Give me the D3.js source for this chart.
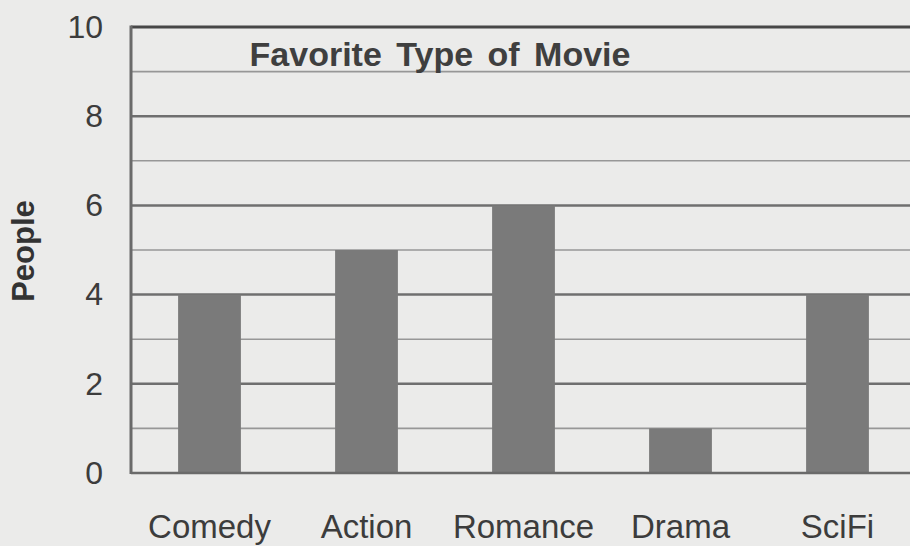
<!DOCTYPE html>
<html>

<head>
    <meta charset="utf-8">
    <style>
        body {
            margin: 0;
            background-color: #ebebea;
        }

        .chart-container {
            width: 910px;
            height: 546px;
            font-family: 'Liberation Sans', Arial, Helvetica, sans-serif;
        }

        svg {
            overflow: hidden;
        }

        .y .domain,
        .x .domain {
            display: none;
        }

        .x .tick line,
        .y .tick line {
            display: none;
        }
    </style>
</head>

<body>
    <div class="chart-container">
        <svg width="910" height="546"></svg>
    </div>
</body>

<script src="https://d3js.org/d3.v7.min.js"></script>

<script>
    // data
    let categories = ["Comedy", "Action", "Romance", "Drama", "SciFi"]
    let people = [4, 5, 6, 1, 4]
    let yTicks = [0, 2, 4, 6, 8, 10]
    let gridValues = [1, 2, 3, 4, 5, 6, 7, 8, 9]
    let title = "Favorite Type of Movie"
    let yLabel = "People"

    let width = 910
    let height = 546
    let svg = d3.select('body').select('svg')

    // plot box runs off the right edge like in the scan
    let margin = { top: 27, right: -6, bottom: 73, left: 131 }

    let x = d3.scaleBand()
        .domain(categories)
        .range([margin.left, width - margin.right])
        .paddingInner(0.6)
        .paddingOuter(0.3)

    let y = d3.scaleLinear()
        .domain([0, 10])
        .range([height - margin.bottom, margin.top])

    svg.append("rect")
        .attr("x", 0)
        .attr("y", 0)
        .attr("width", width)
        .attr("height", height)
        .attr("fill", "#ebebea")

    // gridlines, even ones a bit heavier
    svg.append("g")
        .attr("class", "grid")
        .selectAll("line")
        .data(gridValues)
        .join("line")
        .attr("x1", margin.left)
        .attr("x2", width)
        .attr("y1", d => y(d))
        .attr("y2", d => y(d))
        .attr("stroke", d => d % 2 == 0 ? "#6f6f6f" : "#979797")
        .attr("stroke-width", d => d % 2 == 0 ? 2.5 : 1.6)

    svg.append("text")
        .attr("x", 440)
        .attr("y", 66)
        .attr("text-anchor", "middle")
        .attr("font-size", "34px")
        .attr("font-weight", "bold")
        .attr("word-spacing", "5px")
        .attr("fill", "#3f3f3f")
        .text(title)

    svg.append("g")
        .attr("class", "bars")
        .selectAll("rect")
        .data(people)
        .join("rect")
        .attr("x", (d, i) => x(categories[i]))
        .attr("y", d => y(d))
        .attr("width", x.bandwidth())
        .attr("height", d => y(0) - y(d))
        .attr("fill", "#7a7a7a")

    // frame: top, left, bottom
    svg.append("line")
        .attr("x1", margin.left).attr("x2", width)
        .attr("y1", y(10)).attr("y2", y(10))
        .attr("stroke", "#474747")
        .attr("stroke-width", 3)

    svg.append("line")
        .attr("x1", margin.left).attr("x2", width)
        .attr("y1", y(0)).attr("y2", y(0))
        .attr("stroke", "#6a6a6a")
        .attr("stroke-width", 2.5)

    svg.append("line")
        .attr("x1", margin.left).attr("x2", margin.left)
        .attr("y1", y(10) - 1.5).attr("y2", y(0) + 1)
        .attr("stroke", "#6a6a6a")
        .attr("stroke-width", 3)

    let yAxis = svg.append("g")
        .attr("class", "y")
        .attr("transform", `translate(${margin.left - 28},0)`)
        .call(d3.axisLeft(y).tickValues(yTicks).tickSize(0).tickPadding(0))

    yAxis.selectAll("text")
        .attr("font-size", "32px")
        .attr("font-family", "'Liberation Sans', Arial, sans-serif")
        .attr("fill", "#3c3c3c")

    let xAxis = svg.append("g")
        .attr("class", "x")
        .attr("transform", `translate(0,${y(0)})`)
        .call(d3.axisBottom(x).tickSize(0).tickPadding(0))

    xAxis.selectAll("text")
        .attr("dy", 0)
        .attr("y", 65)
        .attr("font-size", "33px")
        .attr("font-family", "'Liberation Sans', Arial, sans-serif")
        .attr("fill", "#3c3c3c")

    svg.append("text")
        .attr("transform", "translate(34,251) rotate(-90)")
        .attr("text-anchor", "middle")
        .attr("font-size", "31px")
        .attr("font-weight", "bold")
        .attr("fill", "#333333")
        .text(yLabel)
</script>

</html>
